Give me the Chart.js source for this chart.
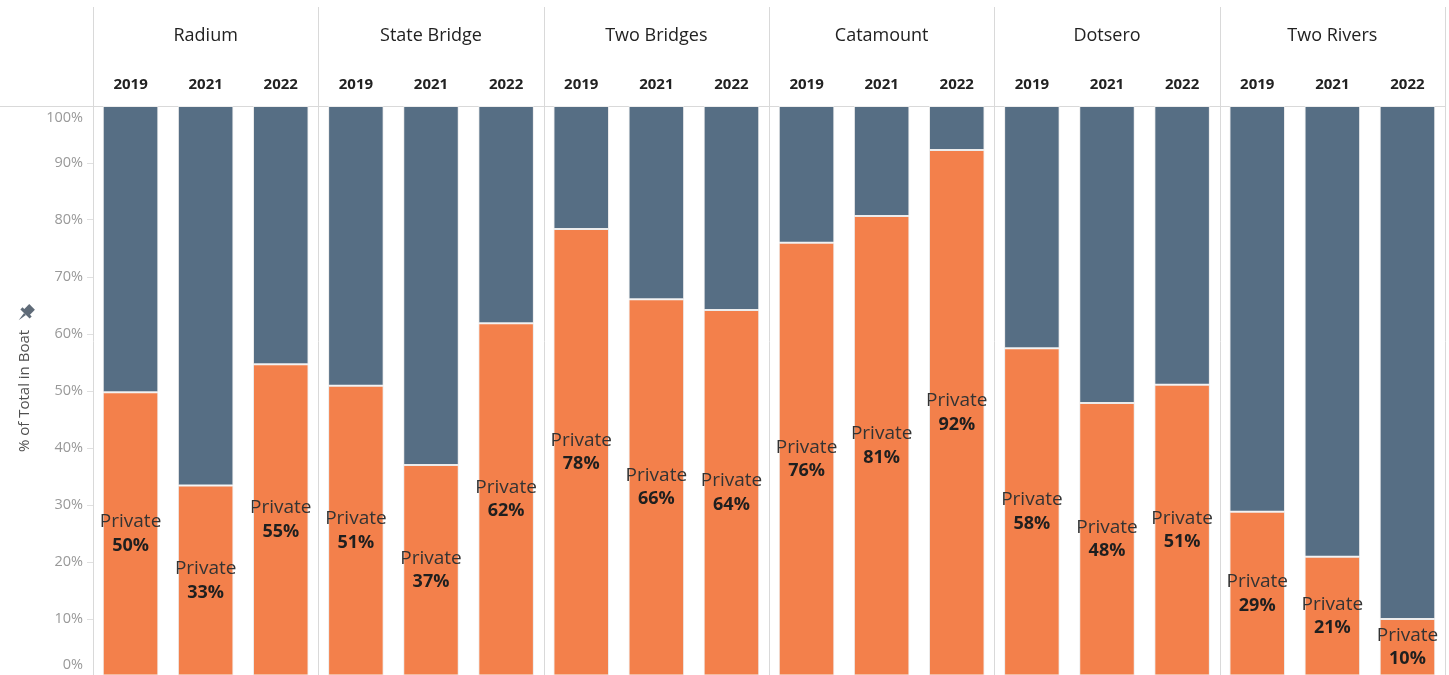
<!DOCTYPE html>
<html>
<head>
<meta charset="utf-8">
<script src="https://cdn.jsdelivr.net/npm/chart.js@4/dist/chart.umd.min.js"></script>
<style>
  html, body { margin: 0; padding: 0; background: #fff; overflow: hidden; }
  #wrap { width: 1449px; height: 676px; position: relative; }
</style>
</head>
<body>
<div id="wrap"><canvas id="c" width="1449" height="676"></canvas></div>
<script>
const groups = ['Radium', 'State Bridge', 'Two Bridges', 'Catamount', 'Dotsero', 'Two Rivers'];
const years = ['2019', '2021', '2022'];
const privateShare = [49.8, 33.4, 54.7, 50.9, 37.0, 61.9, 78.4, 66.1, 64.2, 76.0, 80.7, 92.3, 57.5, 47.9, 51.1, 28.8, 20.9, 10.0];
const otherShare = [50.2, 66.6, 45.3, 49.1, 63.0, 38.1, 21.6, 33.9, 35.8, 24.0, 19.3, 7.7, 42.5, 52.1, 48.9, 71.2, 79.1, 90.0];
const yTickStep = 10;
const axisTitle = '% of Total in Boat';
const seriesLabel = 'Private';

const categories = groups.flatMap(g => years.map(y => g + ' ' + y));
const FONT = "'Open Sans', 'Noto Sans', sans-serif";

const decor = {
  id: 'decor',
  beforeDatasetsDraw(chart) {
    const ctx = chart.ctx, a = chart.chartArea, xs = chart.scales.x;
    ctx.save();
    ctx.strokeStyle = '#d9d9d9';
    ctx.lineWidth = 1;
    ctx.beginPath();
    ctx.moveTo(0, Math.round(a.top) + 0.5);
    ctx.lineTo(Math.round(a.right) + 1, Math.round(a.top) + 0.5);
    ctx.stroke();
    const xsList = [a.left];
    for (let g = 1; g < groups.length; g++) {
      const k = g * years.length;
      xsList.push((xs.getPixelForValue(k) + xs.getPixelForValue(k - 1)) / 2);
    }
    xsList.push(a.right);
    xsList.forEach(x => {
      ctx.beginPath();
      ctx.moveTo(Math.round(x) + 0.5, 7);
      ctx.lineTo(Math.round(x) + 0.5, a.bottom);
      ctx.stroke();
    });
    const ys = chart.scales.y;
    ctx.fillStyle = '#999';
    ctx.font = '14.5px ' + FONT;
    ctx.textAlign = 'right';
    ctx.textBaseline = 'middle';
    ys.ticks.forEach(t => {
      let y = ys.getPixelForValue(t.value);
      y = Math.max(a.top + 12, Math.min(a.bottom - 11, y));
      ctx.fillText(t.value + '%', a.left - 10, y);
    });
    // pin icon above axis title
    ctx.translate(25, 314);
    ctx.rotate(Math.PI / 4);
    ctx.fillStyle = '#5f6b78';
    ctx.beginPath();
    ctx.rect(-4, -10, 8, 8);
    ctx.fill();
    ctx.beginPath();
    ctx.rect(-6.5, -3, 13, 3);
    ctx.fill();
    ctx.beginPath();
    ctx.moveTo(-1.3, 0); ctx.lineTo(1.3, 0); ctx.lineTo(0, 9); ctx.closePath();
    ctx.fill();
    ctx.restore();
  },
  afterDatasetsDraw(chart) {
    const ctx = chart.ctx;
    const meta = chart.getDatasetMeta(0);
    ctx.save();
    ctx.textAlign = 'center';
    ctx.textBaseline = 'middle';
    meta.data.forEach((bar, i) => {
      const cy = (bar.y + bar.base) / 2;
      ctx.fillStyle = '#333';
      ctx.font = '19px ' + FONT;
      ctx.fillText(seriesLabel, bar.x, cy - 12);
      ctx.fillStyle = '#1f1f1f';
      ctx.font = 'bold 18px ' + FONT;
      ctx.fillText(Math.round(privateShare[i]) + '%', bar.x, cy + 12);
    });
    ctx.restore();
  }
};

new Chart(document.getElementById('c'), {
  type: 'bar',
  data: {
    labels: categories,
    datasets: [
      { label: seriesLabel, data: privateShare, backgroundColor: '#F3804B', borderColor: '#ececec', borderWidth: 1, borderSkipped: false, barPercentage: 0.74, categoryPercentage: 1 },
      { label: 'Commercial', data: otherShare, backgroundColor: '#566E84', borderColor: '#ececec', borderWidth: 1, borderSkipped: false, barPercentage: 0.74, categoryPercentage: 1 }
    ]
  },
  options: {
    responsive: false,
    animation: false,
    events: [],
    layout: { padding: { left: 0, right: 4, top: 0, bottom: 0 } },
    plugins: { legend: { display: false }, tooltip: { enabled: false } },
    scales: {
      x: {
        stacked: true,
        position: 'top',
        weight: 0,
        grid: { display: false },
        border: { display: false },
        ticks: {
          autoSkip: false, maxRotation: 0, padding: 4.5,
          color: '#222', font: { family: FONT, size: 15, weight: 'bold' },
          callback: (v, i) => years[i % years.length]
        },
        afterFit: s => { s.height = 50; }
      },
      xg: {
        type: 'category',
        labels: groups,
        position: 'top',
        weight: 1,
        offset: true,
        grid: { display: false },
        border: { display: false },
        ticks: {
          autoSkip: false, maxRotation: 0, padding: 1.5,
          color: '#222', font: { family: FONT, size: 18 }
        },
        afterFit: s => { s.height = 56; }
      },
      y: {
        stacked: true,
        min: 0, max: 100,
        border: { display: false },
        grid: { drawOnChartArea: false, drawTicks: true, tickLength: 6, color: '#e0e0e0' },
        ticks: { stepSize: yTickStep, display: false },
        title: { display: true, text: axisTitle, color: '#505050', font: { family: FONT, size: 15 }, padding: { top: 16, bottom: 0 } },
        afterFit: s => { s.width = 93; }
      }
    }
  },
  plugins: [decor]
});
</script>
</body>
</html>
